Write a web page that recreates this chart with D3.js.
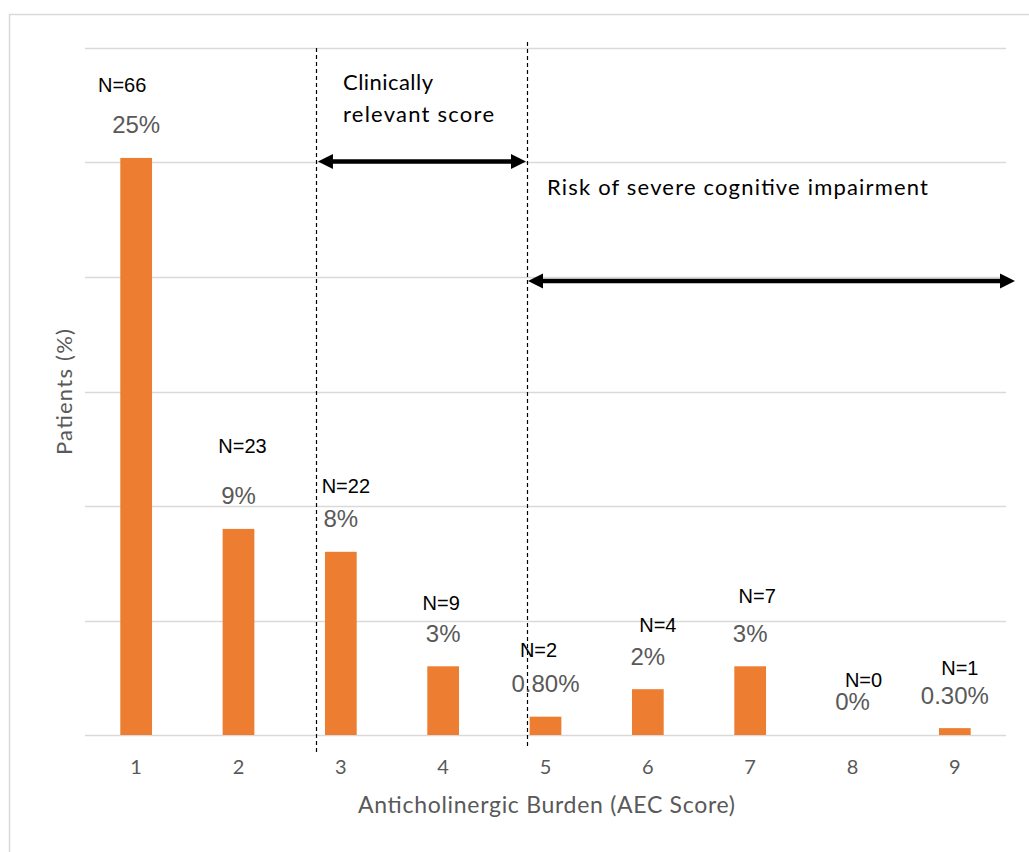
<!DOCTYPE html>
<html>
<head>
<meta charset="utf-8">
<script src="https://cdn.jsdelivr.net/npm/d3@7"></script>
<style>
  html, body { margin: 0; padding: 0; background: #fff; }
  svg { display: block; }
</style>
</head>
<body>
<svg id="chart" width="1029" height="852"></svg>
<script>
// AEC score categories and the share of patients in each
const scores = ["1", "2", "3", "4", "5", "6", "7", "8", "9"];
const patientPct = [25.2, 9, 8, 3, 0.8, 2, 3, 0, 0.3];
const pctLabels = ["25%", "9%", "8%", "3%", "0.80%", "2%", "3%", "0%", "0.30%"];
const countLabels = ["N=66", "N=23", "N=22", "N=9", "N=2", "N=4", "N=7", "N=0", "N=1"];
const yTicks = [0, 5, 10, 15, 20, 25, 30];

// hand-placed offsets of the N= labels (dx, dy from the percentage label)
const countNudge = [[-14, -40], [4, -50], [5, -33], [-2, -30], [-7, -34], [10, -31], [7, -37], [11, -22], [5, -27]];

const svg = d3.select("#chart");
const W = 1029, H = 852;
const plot = { left: 85, right: 1006, top: 48, bottom: 735 };
const sans = "Lato, 'Open Sans', sans-serif";

// outer chart frame
svg.append("rect")
  .attr("x", 9.5).attr("y", 14.5)
  .attr("width", W + 10).attr("height", H + 10)
  .attr("fill", "#fff").attr("stroke", "#d9d9d9").attr("stroke-width", 1.5);

const x = d3.scaleBand()
  .domain(scores)
  .range([plot.left, plot.right])
  .paddingInner(0.69)
  .paddingOuter(0.345);

const y = d3.scaleLinear().domain([0, 30]).range([plot.bottom, plot.top]);

// continuous version of the category axis for annotations between bars
const xc = d3.scaleLinear().domain([0.5, 9.5]).range([plot.left, plot.right]);

// horizontal gridlines (baseline included)
svg.append("g")
  .selectAll("line")
  .data(yTicks)
  .join("line")
  .attr("x1", plot.left).attr("x2", plot.right)
  .attr("y1", d => Math.round(y(d)) + 0.5).attr("y2", d => Math.round(y(d)) + 0.5)
  .attr("stroke", "#d9d9d9").attr("stroke-width", 1.5);

// x axis tick labels
const xAxis = d3.axisBottom(x).tickSize(0).tickPadding(32);
const gx = svg.append("g").attr("transform", `translate(0,${plot.bottom})`).call(xAxis);
gx.select(".domain").remove();
gx.selectAll("text")
  .attr("font-family", sans)
  .attr("font-size", 20)
  .attr("dy", "0.35em")
  .attr("fill", "#595959");

// bars
svg.append("g")
  .selectAll("rect")
  .data(patientPct)
  .join("rect")
  .attr("x", (d, i) => x(scores[i]))
  .attr("width", x.bandwidth())
  .attr("y", d => y(d))
  .attr("height", d => y(0) - y(d))
  .attr("fill", "#ED7D31");

// percentage labels above bars
svg.append("g")
  .selectAll("text")
  .data(patientPct)
  .join("text")
  .attr("x", (d, i) => x(scores[i]) + x.bandwidth() / 2)
  .attr("y", d => y(d) - 33)
  .attr("dy", "0.35em")
  .attr("text-anchor", "middle")
  .attr("font-family", "'Liberation Sans', Arial, sans-serif")
  .attr("font-size", 24)
  .attr("fill", "#595959")
  .text((d, i) => pctLabels[i]);

// patient counts
svg.append("g")
  .selectAll("text")
  .data(patientPct)
  .join("text")
  .attr("x", (d, i) => x(scores[i]) + x.bandwidth() / 2 + countNudge[i][0])
  .attr("y", (d, i) => y(d) - 33 + countNudge[i][1])
  .attr("dy", "0.35em")
  .attr("text-anchor", "middle")
  .attr("font-family", "'Liberation Sans', Arial, sans-serif")
  .attr("font-size", 20)
  .attr("fill", "#000")
  .text((d, i) => countLabels[i]);

// axis titles
svg.append("text")
  .attr("x", 546.5)
  .attr("y", 805)
  .attr("dy", "0.35em")
  .attr("text-anchor", "middle")
  .attr("font-family", sans)
  .attr("font-size", 23)
  .attr("textLength", 377)
  .attr("lengthAdjust", "spacing")
  .attr("fill", "#595959")
  .text("Anticholinergic Burden (AEC Score)");

svg.append("text")
  .attr("transform", `translate(64,392) rotate(-90)`)
  .attr("dy", "0.35em")
  .attr("text-anchor", "middle")
  .attr("font-family", sans)
  .attr("font-size", 22)
  .attr("textLength", 126)
  .attr("lengthAdjust", "spacing")
  .attr("fill", "#595959")
  .text("Patients (%)");

// score cut-offs drawn as dashed verticals
const cutoffs = [
  { at: 2.757, top: 48, bottom: 752 },
  { at: 4.819, top: 42, bottom: 747 }
];
svg.append("g")
  .selectAll("line")
  .data(cutoffs)
  .join("line")
  .attr("x1", d => Math.round(xc(d.at)) + 0.5).attr("x2", d => Math.round(xc(d.at)) + 0.5)
  .attr("y1", d => d.top).attr("y2", d => d.bottom)
  .attr("stroke", "#000").attr("stroke-width", 1.2)
  .attr("stroke-dasharray", "4,3");

// double-headed arrows spanning each score range
function doubleArrow(x1, x2, yy) {
  const g = svg.append("g");
  const head = 15, half = 7.5;
  g.append("line")
    .attr("x1", x1 + head - 2).attr("x2", x2 - head + 2)
    .attr("y1", yy).attr("y2", yy)
    .attr("stroke", "#000").attr("stroke-width", 4.5);
  g.append("path")
    .attr("d", `M${x1},${yy} L${x1 + head},${yy - half} L${x1 + head},${yy + half} Z`)
    .attr("fill", "#000");
  g.append("path")
    .attr("d", `M${x2},${yy} L${x2 - head},${yy - half} L${x2 - head},${yy + half} Z`)
    .attr("fill", "#000");
}
doubleArrow(xc(cutoffs[0].at) + 2, xc(cutoffs[1].at) - 1, y(25) - 1);
doubleArrow(xc(cutoffs[1].at) + 1, plot.right + 9, 281);

// annotation texts
const ann = svg.append("g")
  .attr("font-family", sans)
  .attr("font-size", 22)
  .attr("fill", "#000");
ann.append("text").attr("x", 343).attr("y", 82).attr("dy", "0.35em")
  .attr("textLength", 90).attr("lengthAdjust", "spacing").text("Clinically");
ann.append("text").attr("x", 343).attr("y", 114).attr("dy", "0.35em")
  .attr("textLength", 151).attr("lengthAdjust", "spacing").text("relevant score");
ann.append("text").attr("x", 547).attr("y", 187).attr("dy", "0.35em")
  .attr("textLength", 381).attr("lengthAdjust", "spacing").text("Risk of severe cognitive impairment");
</script>
</body>
</html>
